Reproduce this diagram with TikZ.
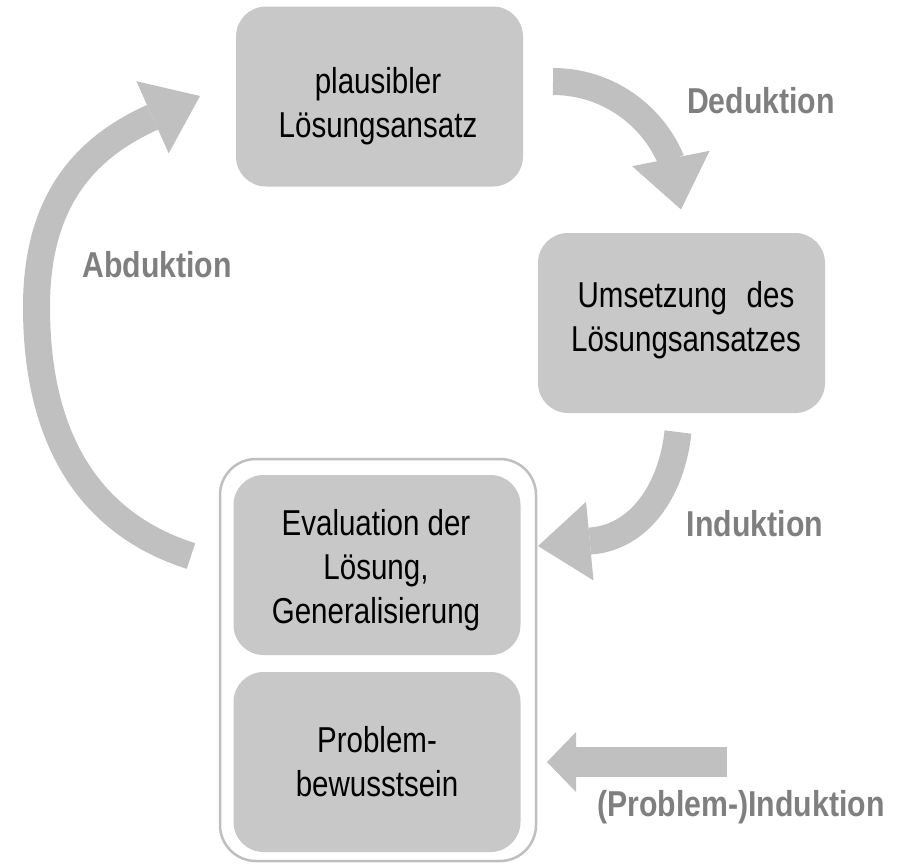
\documentclass[tikz,border=0pt]{standalone}
\usepackage{fontspec}
\setmainfont{Liberation Sans}
\newfontfamily\boxfam[FakeStretch=0.82]{Liberation Sans}
\newfontfamily\labfam[FakeStretch=0.84]{Liberation Sans}
\usetikzlibrary{arrows.meta,bending}
\definecolor{boxgray}{RGB}{200,200,200}
\definecolor{arrowgray}{RGB}{192,192,192}
\definecolor{labelgray}{RGB}{127,127,127}
\definecolor{framegray}{RGB}{191,191,191}
\begin{document}
\begin{tikzpicture}[x=1pt,y=-1pt,
  stepbox/.style={fill=boxgray, rounded corners=30pt, minimum width=287pt, minimum height=180pt, inner sep=0pt},
  boxtext/.style={font=\boxfam\fontsize{36}{44}\selectfont, align=center, inner sep=0pt, text=black},
  lbl/.style={font=\labfam\bfseries\fontsize{36}{40}\selectfont, text=labelgray, inner sep=0pt, anchor=base},
  bigarrow/.style={draw=arrowgray, line width=27pt, -{Triangle[length=52pt,width=79pt,line width=0pt]}},
  straightarrow/.style={draw=arrowgray, line width=30pt, -{Triangle[length=29pt,width=60pt,line width=0pt]}},
  frame/.style={draw=framegray, line width=2.5pt, fill=white, rounded corners=36pt, minimum width=316pt, minimum height=402pt, inner sep=0pt}
]
\useasboundingbox (0,0) rectangle (913,865);

% outer frame
\node[frame] (E) at (378,660) {};

% boxes
\node[stepbox] (A) at (379.5,96.5) {};
\node[stepbox] (B) at (681.5,323) {};
\node[stepbox] (C) at (377,565) {};
\node[stepbox] (D) at (377,762) {};

\node[boxtext] (At) at (378,105.7) {plausibler\\Lösungsansatz};
\node[boxtext] (Bt) at (686,319.7) {Umsetzung\hspace{0.55em}des\\Lösungsansatzes};
\node[boxtext] (Ct) at (376,570) {Evaluation der\\Lösung,\\Generalisierung};
\node[boxtext] (Dt) at (377,762) {Problem-\\bewusstsein};

% labels
\node[lbl] (Ld) at (761,113) {Deduktion};
\node[lbl] (Li) at (755,536) {Induktion};
\node[lbl] (La) at (157,277) {Abduktion};
\node[lbl] (Lp) at (741,816) {(Problem-)Induktion};

% arrows
\coordinate (d0) at (553,81.5);
\draw[bigarrow] (d0) arc[start angle=-90, end angle=0, radius=128];

\coordinate (i0) at (678,432);
\coordinate (i1) at (538,546);
\draw[bigarrow] (i0) .. controls (671.4,491.4) and (639,537) .. (591,541) -- (i1);

\coordinate (a0) at (191,556);
\coordinate (a1) at (200,96);
\draw[bigarrow] (a0) .. controls (96,526) and (36.5,447) .. (36.5,307) .. controls (36.5,202) and (83.7,148.3) .. (152,117.5) -- (a1);

\coordinate (p0) at (727,762);
\coordinate (p1) at (547,762);
\draw[straightarrow] (p0) -- (p1);
\end{tikzpicture}
\end{document}
